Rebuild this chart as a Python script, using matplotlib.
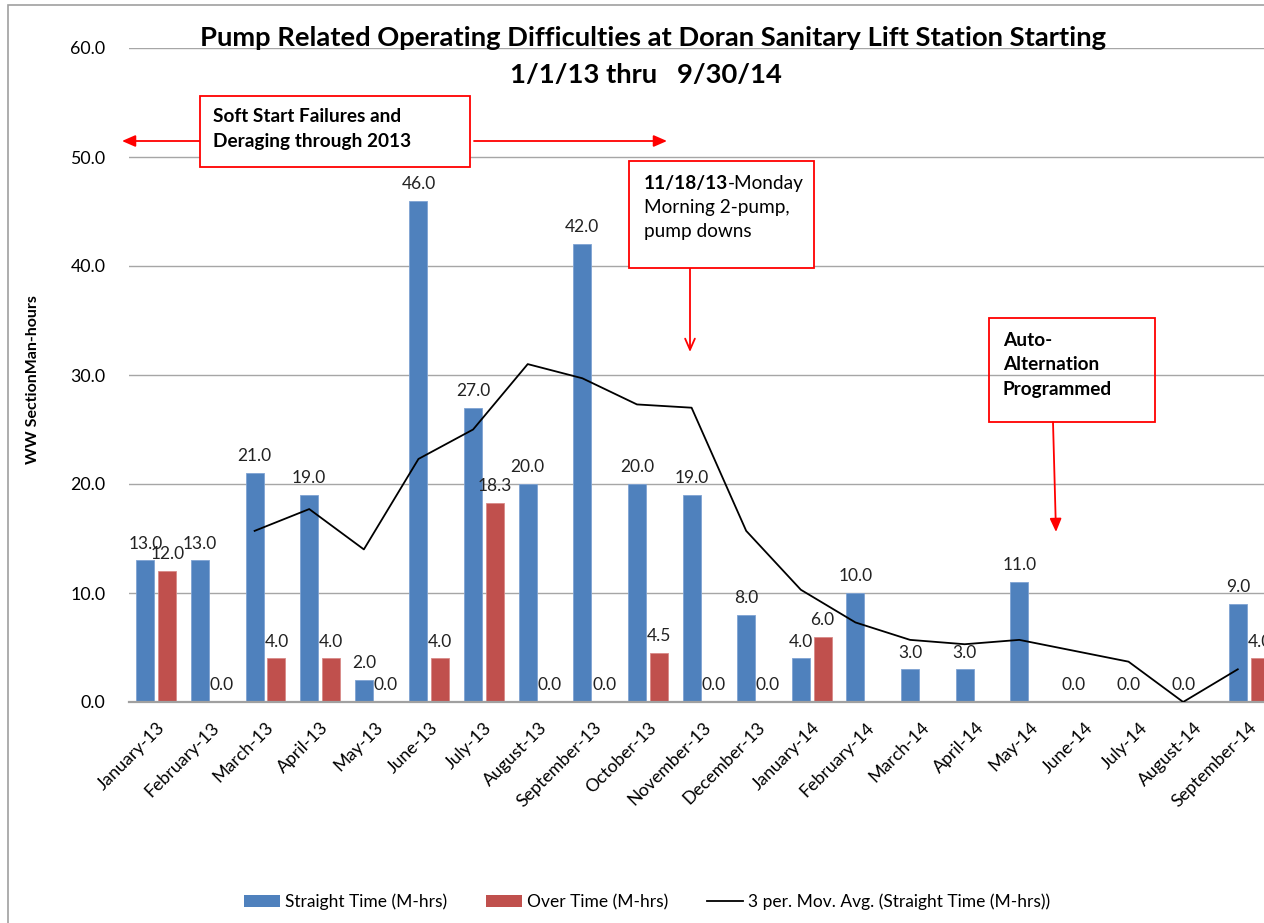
import matplotlib
matplotlib.use("Agg")
import matplotlib.pyplot as plt
import numpy as np
from matplotlib.patches import Rectangle, Patch
from matplotlib.lines import Line2D
from matplotlib.text import Annotation

plt.rcParams['font.family'] = ['Lato', 'DejaVu Sans']

months = ["January-13", "February-13", "March-13", "April-13", "May-13", "June-13",
          "July-13", "August-13", "September-13", "October-13", "November-13",
          "December-13", "January-14", "February-14", "March-14", "April-14",
          "May-14", "June-14", "July-14", "August-14", "September-14"]
straight_time = [13.0, 13.0, 21.0, 19.0, 2.0, 46.0, 27.0, 20.0, 42.0, 20.0, 19.0,
                 8.0, 4.0, 10.0, 3.0, 3.0, 11.0, 0.0, 0.0, 0.0, 9.0]
over_time = [12.0, 0.0, 4.0, 4.0, 0.0, 4.0, 18.3, 0.0, 0.0, 4.5, 0.0, 0.0, 6.0,
             np.nan, np.nan, np.nan, np.nan, np.nan, np.nan, np.nan, 4.0]
# 3-period moving average values (start at March-13)
mov_avg = [np.nan, np.nan, 15.7, 17.7, 14.0, 22.3, 25.0, 31.0, 29.7, 27.3, 27.0,
           15.7, 10.3, 7.3, 5.7, 5.3, 5.7, 4.7, 3.7, 0.0, 3.0]

W, H = 1264, 923
fig = plt.figure(figsize=(W / 100, H / 100), dpi=100)

def fx(x):
    return x / W

def fy(y):
    return 1 - y / H

# outer chart border
fig.patches.append(Rectangle((fx(8), fy(1000)), fx(1400), (1000 - 5) / H,
                             transform=fig.transFigure, fill=False,
                             edgecolor='#A0A0A0', lw=1.2, zorder=0))

ax = fig.add_axes([fx(129), 221 / H, (1276 - 129) / W, 654 / H])
x = np.arange(len(months))
bw = 0.33
off = 0.2
blue = '#4F81BD'
red = '#C0504D'

ax.set_axisbelow(True)
ax.yaxis.grid(True, color='#A6A6A6', lw=1.0)
ax.bar(x - off, straight_time, bw, color=blue, edgecolor='#7FA3D3', lw=0.6, zorder=2)
ot = np.array(over_time, dtype=float)
ax.bar(x + off, np.nan_to_num(ot), bw, color=red, edgecolor='#D98A88', lw=0.6, zorder=2)
ax.plot(x - off, mov_avg, color='black', lw=1.3, zorder=3)

LBL = 12.5
for xi, v in zip(x, straight_time):
    ax.text(xi - off, v + 0.8, f"{v:.1f}", ha='center', va='bottom', fontsize=LBL, color='#222222')
for xi, v in zip(x, over_time):
    if not np.isnan(v):
        ax.text(xi + off, v + 0.8, f"{v:.1f}", ha='center', va='bottom', fontsize=LBL, color='#222222')

ax.set_xlim(-0.5, len(months) - 0.5)
ax.set_ylim(0, 60)
ax.set_yticks(np.arange(0, 61, 10))
ax.set_yticklabels([f"{v:.1f}" for v in np.arange(0, 61, 10)], fontsize=12.8)
ax.set_xticks(x)
ax.set_xticklabels(months, rotation=45, ha='right', va='top', rotation_mode='anchor', fontsize=12.8)
ax.tick_params(axis='both', length=0)
ax.tick_params(axis='y', pad=17)
ax.tick_params(axis='x', pad=12.5)
for s in ['top', 'right', 'left']:
    ax.spines[s].set_visible(False)
ax.spines['bottom'].set_color('#A0A0A0')
ax.spines['bottom'].set_linewidth(1.6)

fig.text(fx(33), fy(380), "WW SectionMan-hours", rotation=90, ha='center', va='center',
         fontsize=11.5, fontweight='bold')

fig.text(fx(653), fy(38), "Pump Related Operating Difficulties at Doran Sanitary Lift Station Starting",
         ha='center', va='center', fontsize=19.7, fontweight='bold')
fig.text(fx(646), fy(75), "1/1/13 thru   9/30/14", ha='center', va='center',
         fontsize=19.7, fontweight='bold')

BOX = 13.7

def box(x0, y0, x1, y1, fill):
    fig.patches.append(Rectangle((fx(x0), fy(y1)), fx(x1 - x0), (y1 - y0) / H,
                                 transform=fig.transFigure, facecolor='white' if fill else 'none',
                                 edgecolor='#FF0000', lw=1.3, zorder=5))

def arrow(x0, y0, x1, y1, style):
    fig.add_artist(Annotation('', xy=(fx(x1), fy(y1)), xytext=(fx(x0), fy(y0)),
                              xycoords='figure fraction', textcoords='figure fraction',
                              arrowprops=dict(arrowstyle=style, color='#FF0000', lw=1.3,
                                              shrinkA=0, shrinkB=0)))

box(200, 96, 470, 167, True)
fig.text(fx(213), fy(117), "Soft Start Failures and", ha='left', va='center',
         fontsize=BOX, fontweight='bold', zorder=7)
fig.text(fx(213), fy(142), "Deraging through 2013", ha='left', va='center',
         fontsize=BOX, fontweight='bold', zorder=7)
arrow(200, 141, 122, 141, '-|>,head_length=0.8,head_width=0.35')
arrow(474, 141, 667, 141, '-|>,head_length=0.8,head_width=0.35')

box(629, 161, 814, 268, True)
t_b = fig.text(fx(644), fy(183), "11/18/13", ha='left', va='center', fontsize=BOX,
               fontweight='bold', zorder=7)
ann = Annotation("-Monday", xy=(1, 0.5), xycoords=t_b, ha='left', va='center',
                 fontsize=BOX, zorder=7)
fig.add_artist(ann)
fig.text(fx(644), fy(208), "Morning 2-pump,", ha='left', va='center', fontsize=BOX, zorder=7)
fig.text(fx(644), fy(232), "pump downs", ha='left', va='center', fontsize=BOX, zorder=7)
arrow(690, 268, 690, 352, '->,head_length=0.8,head_width=0.35')

box(989, 318, 1155, 422, False)
fig.text(fx(1003), fy(340), "Auto-", ha='left', va='center', fontsize=BOX,
         fontweight='bold', zorder=7)
fig.text(fx(1003), fy(365), "Alternation", ha='left', va='center', fontsize=BOX,
         fontweight='bold', zorder=7)
fig.text(fx(1003), fy(390), "Programmed", ha='left', va='center', fontsize=BOX,
         fontweight='bold', zorder=7)
arrow(1053, 422, 1056, 532, '-|>,head_length=0.8,head_width=0.35')

handles = [Patch(facecolor=blue, edgecolor='none'), Patch(facecolor=red, edgecolor='none'),
           Line2D([0], [0], color='black', lw=1.3)]
labels = ["Straight Time (M-hrs)", "Over Time (M-hrs)",
          "3 per. Mov. Avg. (Straight Time (M-hrs))"]
fig.legend(handles, labels, loc='center', bbox_to_anchor=(fx(647), fy(902)), ncol=3,
           frameon=False, fontsize=12.5, handlelength=2.1, handleheight=0.7,
           handletextpad=0.3, columnspacing=2.2)

fig.savefig("out.png", dpi=100)
